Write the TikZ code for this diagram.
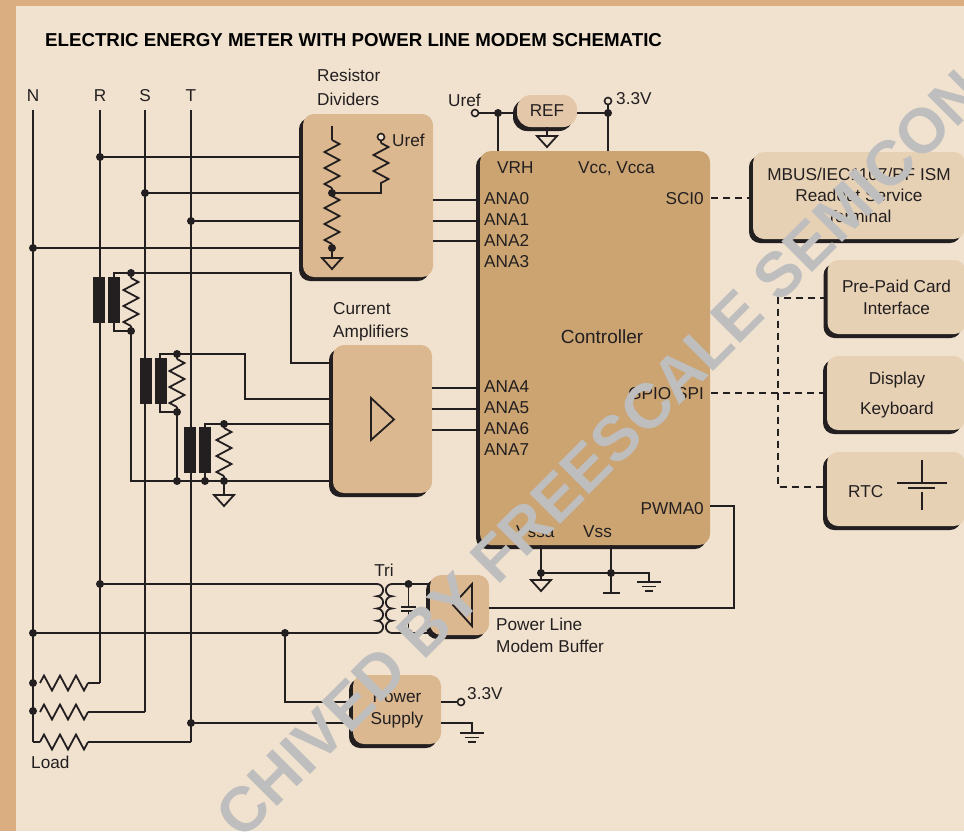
\documentclass[tikz,border=0pt]{standalone}
\usepackage{fontspec}
\setmainfont{Liberation Sans}
\usepackage{xcolor}
\usetikzlibrary{shadows,decorations.pathmorphing}
\definecolor{paper}{HTML}{F1E2CF}
\definecolor{strip}{HTML}{DAAE80}
\definecolor{wire}{HTML}{231F20}
\definecolor{ctrlfill}{HTML}{CCA472}
\definecolor{tanfill}{HTML}{DBB890}
\definecolor{lightfill}{HTML}{E7D1B5}
\definecolor{reffill}{HTML}{E4C7A8}
\definecolor{markgrey}{HTML}{BEBEBE}
\begin{document}
\begin{tikzpicture}[x=1pt, y=-1pt,
  line/.style = {wire, line width=1.8pt},
  dashline/.style = {wire, line width=1.8pt, dash pattern=on 7pt off 5pt},
  resistor/.style = {wire, line width=1.8pt, line join=miter, decorate, decoration={zigzag, segment length=16pt, amplitude=7.5pt}},
  box/.style = {rectangle, rounded corners=11pt, inner sep=0pt, text=wire, align=center, font=\fontsize{17.2}{21}\selectfont, general shadow={fill=wire, shadow xshift=-4pt, shadow yshift=-4pt}},
  lbl/.style = {text=wire, inner sep=0pt, yshift=-4pt, font=\fontsize{17.2}{21}\selectfont},
  dot/.style = {circle, fill=wire, inner sep=0pt, minimum size=8pt},
  term/.style = {circle, draw=wire, line width=1.6pt, fill=paper, inner sep=0pt, minimum size=7pt}]
\clip (0,0) rectangle (964,831);
\useasboundingbox (0,0) rectangle (964,831);
\fill [strip] (0,0) rectangle (964,831);
\fill [paper] (16,6) rectangle (964,831);

\node[box, fill=tanfill, minimum width=130pt, minimum height=163pt] (dividers) at (368,195.5) {};
\node[box, fill=tanfill, minimum width=99pt, minimum height=148pt] (amps) at (382.5,419) {};
\node[box, fill=ctrlfill, minimum width=230pt, minimum height=394pt] (ctrl) at (595,348) {};
\node[box, fill=reffill, minimum width=60pt, minimum height=32pt, rounded corners=14pt] (ref) at (547,111) {REF};
\node[box, fill=lightfill, minimum width=212pt, minimum height=87pt] (mbus) at (859,195.5) {MBUS/IEC1107/RF ISM\\Readout Service\\Terminal};
\node[box, fill=lightfill, minimum width=138pt, minimum height=74pt] (card) at (896.5,297) {Pre-Paid Card\\[1pt]Interface};
\node[box, fill=lightfill, minimum width=138pt, minimum height=74pt] (disp) at (896,393) {};
\node[box, fill=lightfill, minimum width=138pt, minimum height=74pt] (rtc) at (896,489) {};
\node[box, fill=tanfill, minimum width=59pt, minimum height=60pt] (buffer) at (459.5,605) {};
\node[box, fill=tanfill, minimum width=88pt, minimum height=69pt] (supply) at (397,709.5) {Power\\[1pt]Supply};

\coordinate (ntop) at (33,110);
\coordinate (rtop) at (100,110);
\coordinate (stop) at (145,110);
\coordinate (ttop) at (191,110);
\coordinate (nend) at (33,742);
\coordinate (rend) at (100,683);
\coordinate (send) at (145,712);
\coordinate (tend) at (191,742);
\coordinate (rdiv) at (100,157);
\coordinate (sdiv) at (145,193);
\coordinate (tdiv) at (191,221);
\coordinate (ndiv) at (33,248);
\coordinate (rtri) at (100,584);
\coordinate (ntri) at (33,633);
\coordinate (nsup) at (285,633);
\coordinate (tsup) at (191,723);
\coordinate (load1) at (33,683);
\coordinate (load2) at (33,711);
\coordinate (mid) at (332,193);
\coordinate (low) at (332,248);
\coordinate (urefin) at (381,137);
\coordinate (urefr) at (381,193);
\coordinate (ct1a) at (131,273);
\coordinate (ct1b) at (131,331);
\coordinate (ct2a) at (177,354);
\coordinate (ct2b) at (177,412);
\coordinate (ct3a) at (224,424);
\coordinate (ct3b) at (224,481);
\coordinate (ret2) at (177,481);
\coordinate (ret3) at (205,481);
\coordinate (refl) at (498,113);
\coordinate (refr) at (608,113);
\coordinate (urefout) at (475,113);
\coordinate (vout) at (608,101);
\coordinate (vssa) at (541,573);
\coordinate (vss) at (611,573);
\coordinate (capa) at (408.5,584);
\coordinate (capb) at (408.5,633);
\coordinate (supv) at (461,702);

% mains lines
\foreach \a/\b in {ntop/nend, rtop/rend, stop/send, ttop/tend}
\draw [line] (\a) -- (\b);
\draw [line] (nend) -- (40,742);
\draw [line] (88,683) -- (rend);
\draw [line] (88,712) -- (send);
\draw [line] (88,742) -- (tend);
\draw [resistor] (40,683) -- (88,683);
\draw [resistor] (40,712) -- (88,712);
\draw [resistor] (40,742) -- (88,742);

% into the dividers
\foreach \a in {rdiv, sdiv, tdiv, ndiv}
\draw [line] (\a) -- (\a -| dividers.west);
\draw [line] (332,126) -- (332,140);
\draw [resistor] (332,140) -- (332,188);
\draw [line] (332,188) -- (mid);
\draw [line] (mid) -- (332,196);
\draw [resistor] (332,196) -- (332,244);
\draw [line] (332,244) -- (low) -- (332,258);
\draw [line] (urefin) -- (381,143);
\draw [resistor] (381,143) -- (381,190);
\draw [line] (381,190) -- (urefr) -- (mid);

% current transformers
\foreach \x/\y in {93/277, 140/358, 184/427} {
\fill [wire] (\x,\y) rectangle (\x+12,\y+46);
\fill [wire] (\x+15,\y) rectangle (\x+27,\y+46);
}
\draw [line] (114,277) |- (ct1a) -- (291,273) |- (amps.west |- 0,363);
\draw [line] (114,323) |- (ct1b) |- (amps.west |- 0,481);
\draw [line] (160,358) |- (ct2a) -- (245,354) |- (amps.west |- 0,399);
\draw [line] (160,404) |- (ct2b) -- (ret2);
\draw [line] (205,427) |- (ct3a) -- (ct3a -| amps.west);
\draw [line] (205,473) -- (ret3);
\draw [line] (ct1a) -- (131,278);
\draw [resistor] (131,278) -- (131,326);
\draw [line] (131,326) -- (ct1b);
\draw [line] (ct2a) -- (177,359);
\draw [resistor] (177,359) -- (177,407);
\draw [line] (177,407) -- (ct2b);
\draw [line] (ct3a) -- (224,428);
\draw [resistor] (224,428) -- (224,476);
\draw [line] (224,476) -- (ct3b) -- (224,495);
\draw [line] (371,398) -- (371,440) -- (394,419.5) -- cycle;

% controller links
\foreach \y in {200, 221, 241}
\draw [line] (dividers.east |- 0,\y) -- (ctrl.west |- 0,\y);
\foreach \y in {388, 409, 430}
\draw [line] (amps.east |- 0,\y) -- (ctrl.west |- 0,\y);
\draw [line] (urefout) -- (ref.west |- urefout);
\draw [line] (refl) -- (refl |- ctrl.north);
\draw [line] (ref.east |- refr) -- (refr) -- (refr |- ctrl.north);
\draw [line] (refr) -- (vout);
\draw [line] (ref.south) -- (547,136);
\draw [dashline] (711,198) -- (mbus.west |- 0,198);
\draw [dashline] (card.west |- 0,298) -- (778,298) -- (778,487) -- (rtc.west |- 0,487);
\draw [dashline] (711,393) -- (disp.west |- 0,393);
\draw [line] (ctrl.east |- 0,506) -- (734,506) -- (734,608) -- (buffer.east |- 0,608);
\draw [line] (vssa |- ctrl.south) -- (vssa) -- (649,573) -- (649,582);
\draw [line] (vss |- ctrl.south) -- (611,593);
\draw [line] (vssa) -- (541,580);
\draw [line] (603,593) -- (620,593);

% line modem
\draw [line] (rtri) -- (377,584) arc (-90:90:6.125) arc (-90:90:6.125) arc (-90:90:6.125) arc (-90:90:6.125) -- (ntri);
\draw [line] (buffer.west |- capa) -- (392,584) arc (-90:-270:6.125) arc (-90:-270:6.125) arc (-90:-270:6.125) arc (-90:-270:6.125) -- (buffer.west |- capb);
\draw [line] (capa) -- (408.5,607);
\draw [line] (capb) -- (408.5,611);
\draw [line] (401,607) -- (416,607);
\draw [line] (401,611) -- (416,611);
\draw [line] (472,584) -- (472,626) -- (453,605) -- cycle;
\draw [line] (nsup) |- (supply.west |- 0,702);
\draw [line] (tsup) -- (supply.west |- tsup);
\draw [line] (supply.east |- supv) -- (supv);
\draw [line] (supply.east |- 0,723) -- (472,723) -- (472,733);

% grounds
\foreach \x/\y in {332/258, 224/495, 547/136, 541/580}
\draw [line] (\x-10,\y) -- (\x+10,\y) -- (\x,\y+11) -- cycle;
\foreach \x/\y in {649/582, 472/733} {
\draw [line] (\x-12,\y) -- (\x+12,\y);
\draw [line] (\x-7,\y+4.5) -- (\x+7,\y+4.5);
\draw [line] (\x-4,\y+9) -- (\x+4,\y+9);
}
\draw [line] (922,460) -- (922,483);
\draw [line] (897,483) -- (947,483);
\draw [line] (908,488) -- (935,488);
\draw [line] (922,492) -- (922,510);

\foreach \p in {rdiv, sdiv, tdiv, ndiv, rtri, ntri, nsup, tsup, load1, load2, mid, low, ct1a, ct1b, ct2a, ct2b, ct3a, ct3b, ret2, ret3, refl, refr, vssa, vss, capa, capb}
\node[dot] (dot\p) at (\p) {};
\foreach \p in {urefin, urefout, vout, supv}
\node[term] (ring\p) at (\p) {};

\node[anchor=mid west, inner sep=0pt, font=\bfseries\fontsize{18.7}{22}\selectfont] (title) at (45,44) {ELECTRIC ENERGY METER WITH POWER LINE MODEM SCHEMATIC};
\foreach \t/\x in {N/33, R/100, S/145, T/191}
\node[lbl, anchor=mid] (lab\t) at (\x,95) {\t};
\node[lbl, anchor=mid west] (labres) at (317,75) {Resistor};
\node[lbl, anchor=mid west] (labdiv) at (317,99) {Dividers};
\node[lbl, anchor=mid west] (labcur) at (333,308) {Current};
\node[lbl, anchor=mid west] (labamp) at (333,331) {Amplifiers};
\node[lbl, anchor=mid west] (labu1) at (392,140) {Uref};
\node[lbl, anchor=mid west] (labu2) at (448,100) {Uref};
\node[lbl, anchor=mid west] (labv1) at (616,98) {3.3V};
\node[lbl, anchor=mid west] (labv2) at (467,693) {3.3V};
\node[lbl, anchor=mid west] (labvrh) at (497,167) {VRH};
\node[lbl, anchor=mid west] (labvcc) at (578,167) {Vcc, Vcca};
\foreach \n/\y in {0/198, 1/219, 2/240, 3/261, 4/386, 5/407, 6/428, 7/449}
\node[lbl, anchor=mid west] (labana\n) at (484,\y) {ANA\n};
\node[lbl, anchor=mid, font=\fontsize{19}{23}\selectfont] (labctrl) at (602,337) {Controller};
\node[lbl, anchor=mid east] (labsci) at (704,198) {SCI0};
\node[lbl, anchor=mid east] (labgpio) at (704,393) {GPIO SPI};
\node[lbl, anchor=mid east] (labpwm) at (704,508) {PWMA0};
\node[lbl, anchor=mid west] (labvssa) at (516,531) {Vssa};
\node[lbl, anchor=mid west] (labvss) at (583,531) {Vss};
\node[lbl, anchor=mid west] (labrtc) at (848,491) {RTC};
\node[lbl, anchor=mid] (labdisp) at (897,378) {Display};
\node[lbl, anchor=mid] (labkey) at (897,408) {Keyboard};
\node[lbl, anchor=mid] (labtri) at (384,570) {Tri};
\node[lbl, anchor=mid west] (labpl) at (496,624) {Power Line};
\node[lbl, anchor=mid west] (labmb) at (496,646) {Modem Buffer};
\node[lbl, anchor=mid west] (labload) at (31,762) {Load};

\node[rotate=45, text=markgrey, inner sep=0pt, font=\bfseries\fontsize{63}{70}\selectfont] (stamp) at (600,454) {CHIVED BY FREESCALE SEMICON};
\end{tikzpicture}
\end{document}
